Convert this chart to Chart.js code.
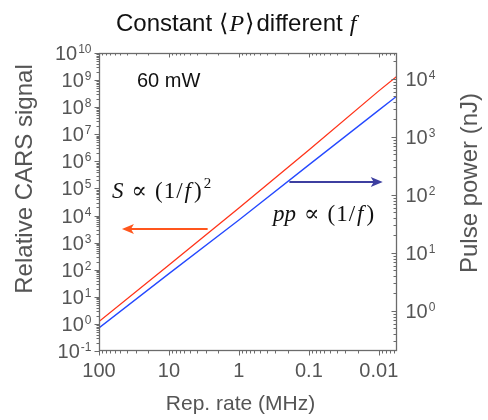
<!DOCTYPE html>
<html lang="en">
<head>
<meta charset="UTF-8">
<title>Constant P, different f</title>
<script src="https://cdn.jsdelivr.net/npm/chart.js"></script>
<style>
  body { margin: 0; background: #fff; }
  canvas { display: block; }
</style>
</head>
<body>
<canvas id="chart" width="488" height="420"></canvas>
<script>
// repetition rate (MHz) and the two curves read at each rate
const repRate    = [100, 10, 1, 0.1, 0.01, 0.0055];
const carsSignal = [1.23, 150, 1.9e4, 2.6e6, 4.0e8, 1.4e9];   // left axis
const pulsePower = [0.51, 4.4, 37, 330, 2900, 5100];          // right axis, nJ

// axis ranges and labelled ticks
const xRange = [0.0055, 100];
const yRange = [0.1, 1e10];
const y2Range = [0.204, 28000];
const xTickValues = [100, 10, 1, 0.1, 0.01];
const xTickLabels = ['100', '10', '1', '0.1', '0.01'];
const yTickExps  = [-1, 0, 1, 2, 3, 4, 5, 6, 7, 8, 9, 10];
const y2TickExps = [0, 1, 2, 3, 4];

// arrows: [x from, x to, y] in data units
const sArrow  = [2.8, 47, 3180];      // on the left axis
const ppArrow = [0.19, 0.0088, 168];  // on the right axis

const RED = '#ff3319';
const BLUE = '#2448ff';
const AXIS = '#6b6b6b';
const GREY_TEXT = '#555';
const SANS = '"Liberation Sans", Arial, sans-serif';
const SERIF = '"Liberation Serif", "DejaVu Serif", serif';

function logTicks(min, max) {
  const out = [];
  for (let e = Math.floor(Math.log10(min)); e <= Math.ceil(Math.log10(max)); e++) {
    for (let s = 1; s <= 9; s++) {
      const v = s * Math.pow(10, e);
      if (v >= min * 0.999 && v <= max * 1.001) out.push({ v: v, major: s === 1 });
    }
  }
  return out;
}

function drawPow(ctx, exp, x, y, align) {
  const base = '10', sup = String(exp);
  ctx.font = '20px ' + SANS;
  const wb = ctx.measureText(base).width;
  ctx.font = '12px ' + SANS;
  const ws = ctx.measureText(sup).width;
  const x0 = align === 'right' ? x - wb - ws - 1 : x;
  ctx.textAlign = 'left';
  ctx.textBaseline = 'alphabetic';
  ctx.font = '20px ' + SANS;
  ctx.fillText(base, x0, y + 7);
  ctx.font = '12px ' + SANS;
  ctx.fillText(sup, x0 + wb + 1, y);
}

// pieces: [text, font, gap before]
function drawPieces(ctx, pieces, x, y) {
  ctx.textAlign = 'left';
  ctx.textBaseline = 'alphabetic';
  let cx = x;
  pieces.forEach(p => {
    cx += p[2] || 0;
    ctx.font = p[1];
    ctx.fillText(p[0], cx + (p[3] ? 0 : 0), y - (p[3] || 0));
    cx += ctx.measureText(p[0]).width;
  });
}

function drawArrow(ctx, x1, x2, y, color) {
  const dir = Math.sign(x2 - x1);
  ctx.save();
  ctx.strokeStyle = color;
  ctx.fillStyle = color;
  ctx.lineWidth = 2;
  ctx.beginPath();
  ctx.moveTo(x1, y);
  ctx.lineTo(x2 - dir * 8, y);
  ctx.stroke();
  ctx.beginPath();
  ctx.moveTo(x2, y);
  ctx.lineTo(x2 - dir * 12, y - 5);
  ctx.lineTo(x2 - dir * 9, y);
  ctx.lineTo(x2 - dir * 12, y + 5);
  ctx.closePath();
  ctx.fill();
  ctx.restore();
}

const framePlugin = {
  id: 'frame',
  afterDraw(chart) {
    const ctx = chart.ctx;
    const a = chart.chartArea;
    const xs = chart.scales.x, ys = chart.scales.y, y2s = chart.scales.y2;
    const L = Math.round(a.left) + 0.5, R = Math.round(a.right) - 0.5;
    const T = Math.round(a.top) + 0.5, B = Math.round(a.bottom) - 0.5;

    ctx.save();
    ctx.strokeStyle = AXIS;
    ctx.lineWidth = 1.3;
    ctx.strokeRect(L, T, R - L, B - T);

    ctx.lineWidth = 1;
    ctx.beginPath();
    // bottom ticks outward, top ticks inward
    logTicks(xRange[0], xRange[1]).forEach(t => {
      const px = Math.round(xs.getPixelForValue(t.v)) + 0.5;
      const len = t.major ? 5 : 3;
      ctx.moveTo(px, B); ctx.lineTo(px, B + len);
      ctx.moveTo(px, T); ctx.lineTo(px, T + (t.major ? 4 : 2));
    });
    // left ticks outward
    logTicks(yRange[0], yRange[1]).forEach(t => {
      const py = Math.round(ys.getPixelForValue(t.v)) + 0.5;
      ctx.moveTo(L, py); ctx.lineTo(L - (t.major ? 5 : 3), py);
    });
    // right ticks inward
    logTicks(y2Range[0], y2Range[1]).forEach(t => {
      const py = Math.round(y2s.getPixelForValue(t.v)) + 0.5;
      ctx.moveTo(R, py); ctx.lineTo(R - (t.major ? 5 : 3), py);
    });
    ctx.stroke();

    // tick labels
    ctx.fillStyle = GREY_TEXT;
    ctx.font = '20px ' + SANS;
    ctx.textAlign = 'center';
    ctx.textBaseline = 'alphabetic';
    xTickValues.forEach((v, i) => {
      ctx.fillText(xTickLabels[i], xs.getPixelForValue(v), B + 26);
    });
    yTickExps.forEach(e => drawPow(ctx, e, L - 8, ys.getPixelForValue(Math.pow(10, e)), 'right'));
    y2TickExps.forEach(e => drawPow(ctx, e, R + 9, y2s.getPixelForValue(Math.pow(10, e)), 'left'));

    // axis titles
    ctx.textAlign = 'center';
    ctx.font = '21px ' + SANS;
    ctx.fillText('Rep. rate (MHz)', 240.5, 410);
    ctx.font = '24px ' + SANS;
    ctx.save();
    ctx.translate(32, 179);
    ctx.rotate(-Math.PI / 2);
    ctx.fillText('Relative CARS signal', 0, 0);
    ctx.restore();
    ctx.save();
    ctx.translate(477, 183);
    ctx.rotate(-Math.PI / 2);
    ctx.fillText('Pulse power (nJ)', 0, 0);
    ctx.restore();

    // title
    ctx.fillStyle = '#111';
    drawPieces(ctx, [
      ['Constant', '24px ' + SANS, 0],
      ['\u27E8', '24px ' + SERIF, 7],
      ['P', 'italic 24px ' + SERIF, 1],
      ['\u27E9', '24px ' + SERIF, 1],
      ['different', '24px ' + SANS, 2],
      ['f', 'italic 24px ' + SERIF, 7]
    ], 116, 31);

    // annotations
    ctx.font = '20px ' + SANS;
    ctx.textAlign = 'left';
    ctx.fillText('60 mW', 137, 87);

    const mathR = '23px ' + SERIF, mathI = 'italic 23px ' + SERIF;
    drawPieces(ctx, [
      ['S', mathI, 0],
      ['\u221D', mathR, 8],
      ['(', mathR, 8],
      ['1', mathR, 1],
      ['/', mathR, 1],
      ['f', mathI, 2],
      [')', mathR, 3],
      ['2', '15px ' + SERIF, 2, 10]
    ], 112, 198);
    drawPieces(ctx, [
      ['pp', mathI, 0],
      ['\u221D', mathR, 8],
      ['(', mathR, 8],
      ['1', mathR, 1],
      ['/', mathR, 1],
      ['f', mathI, 2],
      [')', mathR, 3]
    ], 273, 221);

    drawArrow(ctx, xs.getPixelForValue(sArrow[0]), xs.getPixelForValue(sArrow[1]),
      Math.round(ys.getPixelForValue(sArrow[2])), '#ff561d');
    drawArrow(ctx, xs.getPixelForValue(ppArrow[0]), xs.getPixelForValue(ppArrow[1]),
      Math.round(y2s.getPixelForValue(ppArrow[2])), '#3d3fa0');
    ctx.restore();
  }
};

const hidden = { ticks: { display: false }, grid: { display: false }, border: { display: false } };

new Chart(document.getElementById('chart'), {
  type: 'line',
  data: {
    datasets: [
      {
        label: 'CARS signal',
        data: repRate.map((f, i) => ({ x: f, y: carsSignal[i] })),
        yAxisID: 'y',
        borderColor: RED,
        borderWidth: 1.3,
        pointRadius: 0,
        tension: 0
      },
      {
        label: 'Pulse power',
        data: repRate.map((f, i) => ({ x: f, y: pulsePower[i] })),
        yAxisID: 'y2',
        borderColor: BLUE,
        borderWidth: 1.3,
        pointRadius: 0,
        tension: 0
      }
    ]
  },
  options: {
    responsive: false,
    animation: false,
    layout: { padding: { top: 53, left: 0, right: 0, bottom: 0 } },
    plugins: { legend: { display: false }, tooltip: { enabled: false } },
    scales: {
      x: Object.assign({ type: 'logarithmic', reverse: true, min: xRange[0], max: xRange[1],
        afterFit: s => { s.height = 69; } }, hidden),
      y: Object.assign({ type: 'logarithmic', position: 'left', min: yRange[0], max: yRange[1],
        afterFit: s => { s.width = 99; } }, hidden),
      y2: Object.assign({ type: 'logarithmic', position: 'right', min: y2Range[0], max: y2Range[1],
        afterFit: s => { s.width = 91; } }, hidden)
    }
  },
  plugins: [framePlugin]
});
</script>
</body>
</html>
